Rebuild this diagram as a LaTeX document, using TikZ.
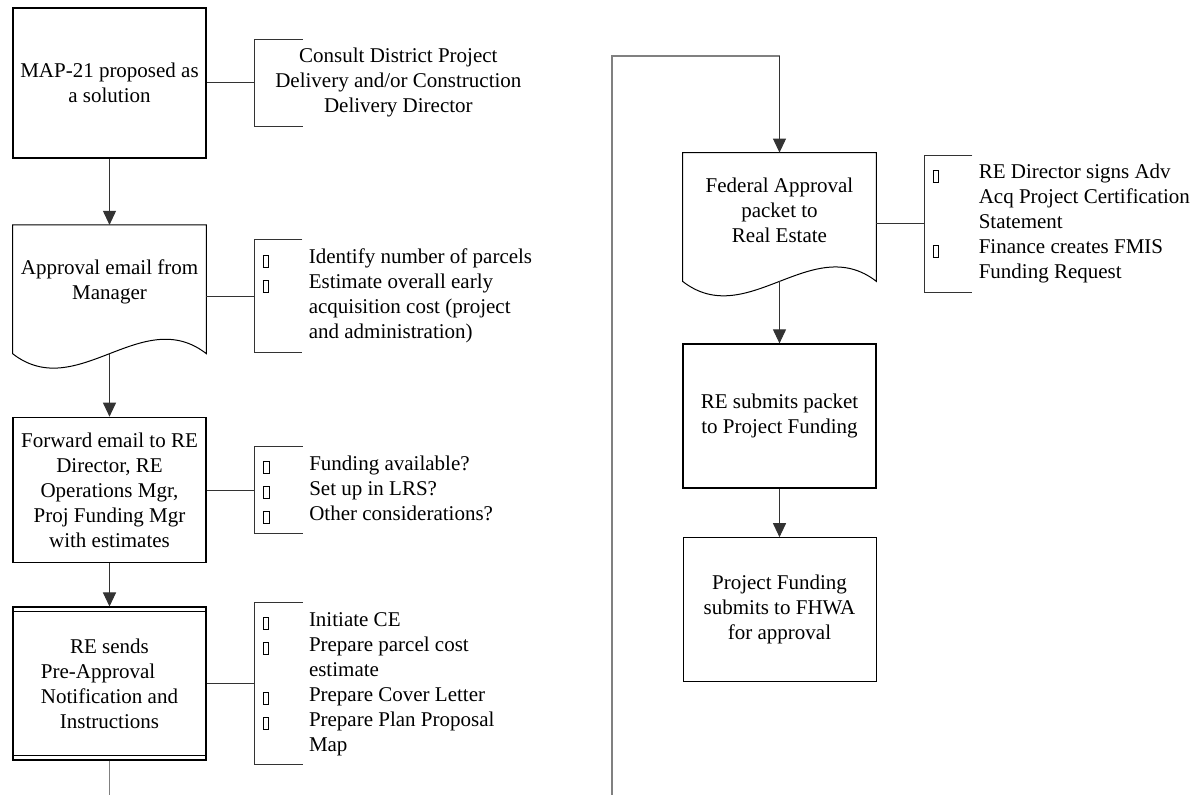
\documentclass[tikz,border=0pt]{standalone}
\usepackage{fontspec}
\setmainfont{Liberation Serif}
\usepackage{calc}
\usetikzlibrary{arrows.meta,positioning}

% small square bullet of the note lists
\newcommand\sqbul{\raisebox{-1.5pt}{\setlength\fboxsep{0pt}\setlength\fboxrule{0.5pt}\fbox{\rule{0pt}{5.6pt}\hspace{2.2pt}}}}
% open bracket on the left side of a note
\newcommand\bracketmark[1]{\draw[link] ([xshift=24pt]#1.north west) -- (#1.north west) -- (#1.south west) -- ([xshift=24pt]#1.south west);}
% document outline with a wavy bottom
\newcommand\docpath[1]{\draw[docline] (#1.north west) -- (#1.north east) -- ([yshift=-7pt]#1.south east)
  .. controls ([shift={(-32.2pt,18pt)}]#1.south east) and ([shift={(32.2pt,-32pt)}]#1.south west) .. ([yshift=-7pt]#1.south west) -- cycle;}

\begin{document}
\begin{tikzpicture}[x=0.5pt,y=-0.5pt,
  every node/.style={font=\fontsize{10.5}{12.5}\selectfont},
  thickbox/.style={rectangle, draw, line width=0.9pt, minimum width=96.5pt, inner sep=2pt, align=center},
  thinbox/.style={thickbox, line width=0.5pt},
  docbox/.style={rectangle, minimum width=96.5pt, minimum height=57pt, inner sep=2pt, align=center},
  docline/.style={line width=0.5pt},
  note/.style={anchor=west, inner xsep=4pt, inner ysep=3pt},
  link/.style={line width=0.5pt, black!80},
  flow/.style={link, -{Triangle[length=7pt,width=6.5pt]}},
  exit/.style={line width=0.8pt, black!50}
  ]
  \useasboundingbox (0,0) rectangle (1195,795);

  % left column
  \node[thickbox, minimum height=75pt] (map) at (109.5,83) {MAP-21 proposed as\\a solution};
  \node[docbox, below=33pt of map] (approval) {Approval email from\\Manager};
  \node[thickbox, minimum height=72.5pt, below=38.5pt of approval] (forward) {Forward email to RE\\Director, RE\\Operations Mgr,\\Proj Funding Mgr\\with estimates};
  \node[thinbox, line width=0.6pt, minimum height=76.5pt, below=21.5pt of forward] (preapp) {RE sends\\\makebox[\widthof{Notification and}][l]{Pre-Approval}\\Notification and\\Instructions};
  \docpath{approval}
  \draw[docline] ([yshift=-2.4pt]preapp.north west) -- ([yshift=-2.4pt]preapp.north east);
  \draw[docline] ([yshift=2.4pt]preapp.south west) -- ([yshift=2.4pt]preapp.south east);

  \node[note, right=24pt of map, inner xsep=10pt] (consult) {\begin{tabular}{@{}c@{}}Consult District Project\\Delivery and/or Construction\\Delivery Director\end{tabular}};
  \node[note, right=24pt of approval, yshift=-7pt] (identify) {\begin{tabular}{@{}p{23pt}@{}l@{}}
    \sqbul & Identify number of parcels\\
    \sqbul & Estimate overall early\\
           & acquisition cost (project\\
           & and administration)\end{tabular}};
  \node[note, right=24pt of forward] (checks) {\begin{tabular}{@{}p{23pt}@{}l@{}}
    \sqbul & Funding available?\\
    \sqbul & Set up in LRS?\\
    \sqbul & Other considerations?\end{tabular}};
  \node[note, right=24pt of preapp] (tasks) {\begin{tabular}{@{}p{23pt}@{}l@{}}
    \sqbul & Initiate CE\\
    \sqbul & Prepare parcel cost\\
           & estimate\\
    \sqbul & Prepare Cover Letter\\
    \sqbul & Prepare Plan Proposal\\
           & Map\end{tabular}};

  % right column
  \node[docbox] (fedpkt) at (779.5,210) {Federal Approval\\packet to\\Real Estate};
  \node[thickbox, minimum height=72pt, below=38pt of fedpkt] (resub) {RE submits packet\\to Project Funding};
  \node[thinbox, minimum height=72pt, below=24pt of resub] (fhwa) {Project Funding\\submits to FHWA\\for approval};
  \docpath{fedpkt}

  \node[note, right=24pt of fedpkt, yshift=-7pt] (signs) {\begin{tabular}{@{}p{23pt}@{}l@{}}
    \sqbul & RE Director signs Adv\\
           & Acq Project Certification\\
           & Statement\\
    \sqbul & Finance creates FMIS\\
           & Funding Request\end{tabular}};

  \bracketmark{consult}
  \bracketmark{identify}
  \bracketmark{checks}
  \bracketmark{tasks}
  \bracketmark{signs}

  \coordinate (leftexit) at (109.5,795);
  \coordinate (rightexit) at (612,795);
  \coordinate (looptop) at (612,56);

  \draw[link] (map) -- (consult);
  \draw[link] (identify.west -| approval.east) -- (identify.west);
  \draw[link] (forward) -- (checks);
  \draw[link] (preapp) -- (tasks);
  \draw[link] (signs.west -| fedpkt.east) -- (signs.west);

  \draw[flow] (map) -- (approval);
  \draw[flow] ([yshift=-7pt]approval.south) -- (forward);
  \draw[flow] (forward) -- (preapp);
  \draw[exit] (preapp) -- (leftexit);

  \draw[exit] (rightexit) -- (looptop) -- (looptop -| fedpkt.north);
  \draw[flow] (looptop -| fedpkt.north) -- (fedpkt);
  \draw[flow] ([yshift=-7pt]fedpkt.south) -- (resub);
  \draw[flow] (resub) -- (fhwa);

\end{tikzpicture}
\end{document}
